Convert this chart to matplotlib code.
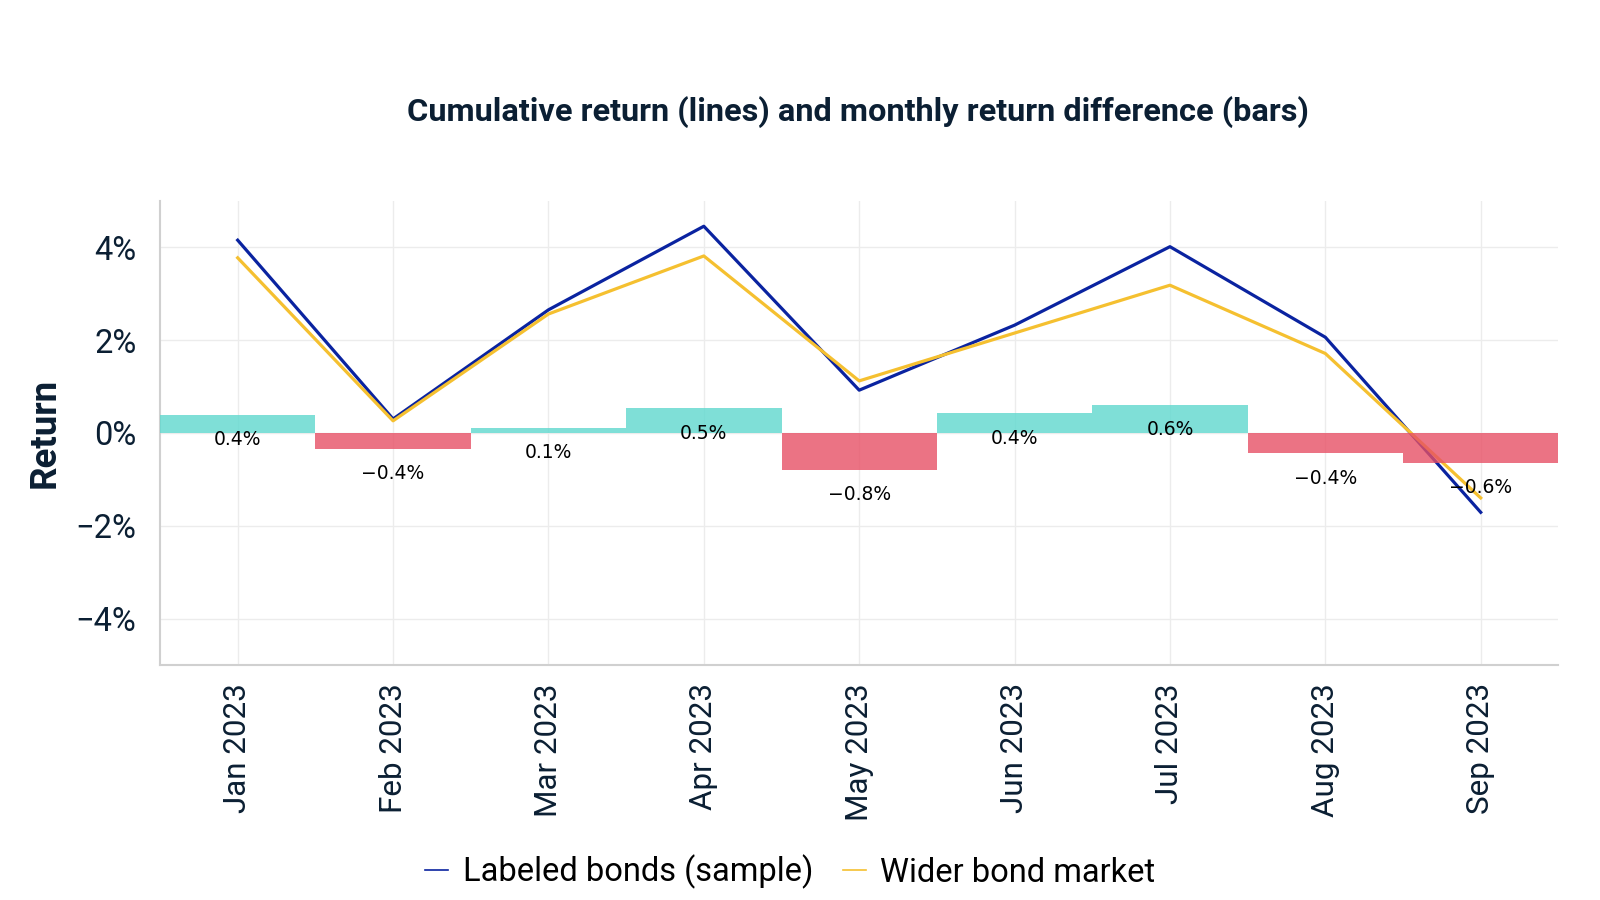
import matplotlib.pyplot as plt
import numpy as np
from matplotlib.ticker import FuncFormatter

months = ["Jan 2023", "Feb 2023", "Mar 2023", "Apr 2023", "May 2023",
          "Jun 2023", "Jul 2023", "Aug 2023", "Sep 2023"]
labeled = [4.15, 0.3, 2.65, 4.45, 0.92, 2.32, 4.01, 2.06, -1.71]
wider = [3.77, 0.26, 2.56, 3.81, 1.12, 2.15, 3.18, 1.71, -1.4]
diff = [0.39, -0.35, 0.11, 0.53, -0.79, 0.42, 0.61, -0.44, -0.64]
diff_labels = ["0.4%", "\u22120.4%", "0.1%", "0.5%", "\u22120.8%",
               "0.4%", "0.6%", "\u22120.4%", "\u22120.6%"]

plt.rcParams['font.family'] = ['Roboto', 'DejaVu Sans']
dark = '#0b1f33'

fig = plt.figure(figsize=(16, 9), dpi=100)
ax = fig.add_axes([0.1, 0.261, 0.874, 0.516])

x = np.arange(len(months))
ax.plot(x, labeled, color='#0a23a0', lw=2.3, zorder=2, label='Labeled bonds (sample)')
ax.plot(x, wider, color='#f5c030', lw=2.3, zorder=2, label='Wider bond market')

colors = ['#5fd8ce' if v >= 0 else '#e75065' for v in diff]
ax.bar(x, diff, width=1.0, color=colors, alpha=0.8, zorder=3)
for xi, v, t in zip(x, diff, diff_labels):
    ax.annotate(t, (xi, v), xytext=(0, -11), textcoords='offset points',
                ha='center', va='top', fontsize=13.5, family='DejaVu Sans',
                color='black', zorder=4)

ax.set_xlim(-0.5, 8.5)
ax.set_ylim(-5, 5)
ax.set_yticks([-4, -2, 0, 2, 4])
ax.yaxis.set_major_formatter(FuncFormatter(lambda v, p: f"{v:.0f}%".replace('-', '\u2212')))
ax.set_xticks(x)
ax.set_xticklabels(months, rotation=90, fontsize=22.6, color=dark)
ax.tick_params(axis='y', labelsize=23.5, labelcolor=dark, length=0, pad=17)
ax.tick_params(axis='x', length=0, pad=13)
ax.grid(True, color='#ececec', lw=1, zorder=0)
ax.set_axisbelow(True)
for s in ['top', 'right']:
    ax.spines[s].set_visible(False)
for s in ['left', 'bottom']:
    ax.spines[s].set_color('#d0d0d0')
    ax.spines[s].set_linewidth(1.5)

ax.set_ylabel('Return', fontsize=26.5, fontweight='bold', color=dark, labelpad=9)
fig.text(0.536, 0.875, 'Cumulative return (lines) and monthly return difference (bars)',
         ha='center', va='center', fontsize=23.4, fontweight='bold', color=dark)

leg = fig.legend(loc='center', bbox_to_anchor=(0.494, 0.031), ncol=2, frameon=False,
                 fontsize=23.5, handlelength=0.7, handletextpad=0.45, columnspacing=0.9)
for h in leg.get_lines():
    h.set_linewidth(1.2)

fig.savefig('out.png', dpi=100)
